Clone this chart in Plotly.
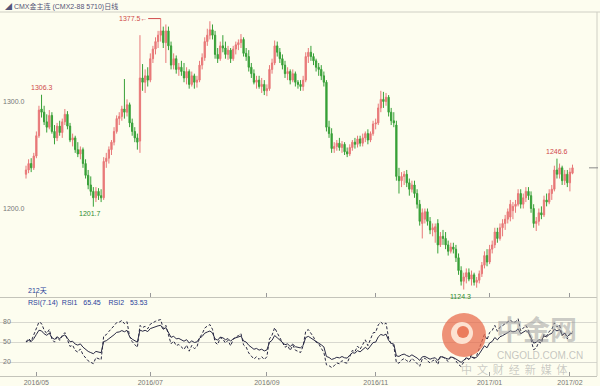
import plotly.graph_objects as go

# ---------------- data ----------------
opens = [
1232,1236,1242,1238,1249,1268,1293,1290,1281,1276,
1287,1272,1266,1277,1271,1281,1288,1277,1264,1266,
1255,1251,1255,1242,1231,1222,1216,1210,1216,1212,
1210,1244,1247,1255,1262,1272,1284,1286,1293,1290,
1297,1280,1272,1266,1263,1322,1318,1324,1320,1340,
1349,1356,1362,1366,1355,1366,1352,1334,1340,1330,
1332,1328,1322,1328,1316,1324,1318,1320,1334,1341,
1356,1362,1367,1362,1344,1340,1352,1350,1344,1348,
1340,1349,1353,1355,1358,1345,1342,1332,1326,1318,
1320,1314,1316,1310,1312,1330,1336,1352,1346,1340,
1334,1326,1328,1320,1326,1318,1316,1314,1320,1342,
1346,1342,1338,1332,1330,1324,1318,1276,1270,1256,
1258,1261,1257,1260,1253,1251,1257,1262,1260,1265,
1261,1266,1270,1264,1270,1279,1280,1294,1302,1300,
1304,1290,1282,1278,1230,1226,1230,1232,1224,1218,
1222,1214,1204,1186,1190,1197,1188,1180,1178,1186,
1166,1174,1172,1166,1160,1164,1162,1154,1142,1132,
1136,1140,1134,1138,1131,1133,1139,1147,1156,1150,
1162,1166,1178,1172,1182,1186,1190,1192,1198,1202,
1204,1214,1204,1210,1216,1212,1200,1186,1188,1196,
1194,1208,1206,1214,1218,1236,1232,1238,1226,1232,
1224,1233]

highs = [
1240,1246,1247,1252,1272,1296,1306.3,1296,1288,1292,
1290,1278,1280,1282,1284,1293,1291,1280,1270,1268,
1262,1258,1257,1246,1236,1230,1220,1220,1219,1218,
1248,1252,1258,1264,1276,1287,1290,1296,1321,1302,
1299,1284,1276,1270,1362,1335,1330,1332,1345,1352,
1360,1366,1377.5,1370,1372,1370,1356,1345,1343,1336,
1338,1336,1332,1330,1328,1326,1324,1338,1345,1360,
1368,1375,1372,1366,1350,1356,1362,1356,1352,1350,
1352,1356,1358,1363,1360,1350,1348,1336,1330,1324,
1324,1322,1320,1316,1334,1340,1357,1356,1350,1344,
1338,1332,1330,1330,1328,1320,1320,1324,1346,1350,
1352,1345,1340,1336,1334,1328,1320,1282,1275,1262,
1264,1266,1263,1262,1257,1260,1264,1266,1268,1268,
1270,1272,1274,1272,1282,1284,1298,1310,1309,1308,
1306,1294,1290,1282,1238,1234,1235,1236,1228,1226,
1226,1218,1208,1200,1200,1200,1192,1186,1186,1190,
1178,1180,1178,1170,1168,1168,1166,1158,1146,1140,
1144,1144,1142,1140,1136,1142,1150,1160,1162,1166,
1170,1182,1182,1186,1190,1194,1200,1208,1206,1208,
1218,1218,1214,1220,1220,1216,1204,1192,1200,1202,
1212,1214,1218,1222,1240,1246.6,1242,1240,1236,1236,
1238,1241]

lows = [
1228,1233,1234,1236,1247,1266,1285,1278,1271,1274,
1270,1260,1263,1268,1266,1278,1274,1262,1258,1252,
1248,1246,1238,1228,1218,1212,1201.7,1206,1208,1206,
1208,1238,1242,1250,1259,1270,1278,1282,1284,1286,
1276,1268,1262,1255,1252,1310,1308,1314,1318,1336,
1344,1350,1356,1350,1336,1348,1330,1330,1326,1324,
1324,1318,1316,1312,1314,1312,1313,1318,1330,1338,
1352,1358,1358,1340,1336,1338,1346,1340,1339,1336,
1338,1344,1348,1350,1342,1338,1328,1322,1316,1312,
1312,1308,1306,1305,1310,1326,1334,1342,1336,1330,
1322,1320,1316,1318,1314,1312,1310,1310,1318,1336,
1338,1334,1328,1324,1320,1314,1272,1266,1252,1252,
1254,1254,1252,1250,1248,1249,1254,1256,1257,1258,
1258,1262,1260,1262,1268,1274,1278,1290,1294,1296,
1286,1278,1276,1226,1214,1220,1222,1220,1212,1215,
1210,1200,1184,1172,1186,1184,1176,1174,1168,1158,
1164,1166,1162,1156,1158,1158,1150,1138,1128,1124.3,
1130,1132,1128,1128,1126,1130,1136,1144,1146,1148,
1158,1163,1168,1170,1174,1180,1186,1188,1190,1196,
1202,1200,1200,1206,1208,1196,1182,1179,1184,1190,
1192,1202,1204,1208,1216,1228,1228,1222,1222,1220,
1216,1232]

closes = [
1236,1242,1238,1249,1268,1292,1290,1281,1276,1287,
1272,1266,1277,1271,1281,1288,1277,1264,1266,1255,
1251,1255,1242,1231,1222,1216,1210,1216,1212,1210,
1244,1247,1255,1262,1272,1284,1286,1293,1290,1297,
1280,1272,1266,1262,1322,1318,1324,1320,1340,1349,
1356,1362,1366,1355,1366,1352,1334,1340,1330,1332,
1328,1322,1328,1316,1324,1318,1320,1334,1341,1356,
1362,1367,1362,1344,1340,1352,1350,1344,1348,1340,
1349,1353,1355,1358,1345,1342,1332,1326,1318,1320,
1314,1316,1310,1312,1330,1336,1352,1346,1340,1334,
1326,1328,1320,1326,1318,1316,1314,1320,1342,1346,
1342,1338,1332,1330,1324,1318,1276,1270,1256,1258,
1261,1257,1260,1253,1251,1257,1262,1260,1265,1261,
1266,1270,1264,1270,1279,1280,1294,1302,1300,1304,
1290,1282,1280,1230,1226,1230,1232,1224,1218,1222,
1214,1204,1188,1196,1197,1188,1180,1182,1183,1166,
1174,1172,1166,1160,1164,1162,1154,1142,1132,1136,
1140,1134,1138,1131,1133,1139,1147,1156,1150,1162,
1166,1178,1172,1182,1186,1190,1197,1204,1202,1204,
1214,1204,1210,1216,1212,1200,1186,1188,1196,1194,
1208,1206,1214,1218,1236,1232,1238,1226,1232,1224,
1234,1238]

# month tick positions (bar index) and labels
tick_pos = [4, 48, 93, 135, 179, 210]
tick_text = ["2016/05", "2016/07", "2016/09", "2016/11", "2017/01", "2017/02"]

price_ticks = [1200, 1300]
price_tick_text = ["1200.0", "1300.0"]
rsi_ticks = [20, 50, 80]

# labelled extremes
peak_labels = [1306.3, 1377.5, 1246.6]
trough_labels = [1201.7, 1124.3]

title_text = "◢ CMX金主连 (CMX2-88 5710)日线"
rsi_header = "RSI(7.14)  RSI1   65.45    RSI2   53.53"
days_text = "212天"

# ---------------- RSI (SMA-type, as in the charting software) ----------------
def rsi(vals, n, seed_up=5.0, seed_abs=10.0):
    up, ab = seed_up, seed_abs
    out = []
    prev = vals[0]
    for v in vals:
        d = v - prev
        up = (max(d, 0) + (n - 1) * up) / n
        ab = (abs(d) + (n - 1) * ab) / n
        out.append(100 * up / ab if ab else 50)
        prev = v
    return out

idx = list(range(len(closes)))
rsi1 = rsi(closes, 7)
rsi2 = rsi(closes, 14)

W, H = 600, 386
def py(p):
    return 1 - p / H
def px(p):
    return p / W

BG = "#FDFDEF"
FONT = "Liberation Sans, Noto Sans CJK SC, DejaVu Sans"
RED = "#E87878"
GREEN = "#38A038"

fig = go.Figure()
fig.add_trace(go.Candlestick(
    x=idx, open=opens, high=highs, low=lows, close=closes,
    increasing=dict(line=dict(color=RED, width=1), fillcolor=RED),
    decreasing=dict(line=dict(color=GREEN, width=1), fillcolor=GREEN),
    whiskerwidth=0, showlegend=False, xaxis="x", yaxis="y",
))
fig.add_trace(go.Scatter(
    x=idx, y=rsi2, mode="lines", line=dict(color="#2a2a44", width=1),
    showlegend=False, xaxis="x2", yaxis="y2",
))
fig.add_trace(go.Scatter(
    x=idx, y=rsi1, mode="lines", line=dict(color="#2a2a44", width=1, dash="3px,2px"),
    showlegend=False, xaxis="x2", yaxis="y2",
))

xr = [-10.04, 220.46]
xdom = [0, 597 / W]

annotations = []
for v in peak_labels:
    i = highs.index(v)
    if v == max(highs):
        annotations.append(dict(x=i, y=v, xref="x", yref="y", text=f"{v:.1f}←",
                                showarrow=True, arrowhead=0, arrowwidth=1, arrowcolor="#D04A4A",
                                ax=-28, ay=0, font=dict(family=FONT, size=7, color="#D04A4A")))
    else:
        annotations.append(dict(x=i, y=v, xref="x", yref="y", text=f"{v:.1f}", showarrow=False,
                                yshift=7, font=dict(family=FONT, size=7, color="#D04A4A")))
for v in trough_labels:
    i = lows.index(v)
    annotations.append(dict(x=i, y=v, xref="x", yref="y", text=f"{v:.1f}", showarrow=False,
                            yshift=-7, xshift=-3, font=dict(family=FONT, size=7, color="#2E8B2E")))

annotations += [
    dict(x=px(3), y=py(6), xref="paper", yref="paper", text=title_text, showarrow=False,
         xanchor="left", yanchor="middle", font=dict(family=FONT, size=7, color="#555577")),
    dict(x=px(26), y=py(291), xref="paper", yref="paper", text=days_text, showarrow=False,
         xanchor="left", yanchor="middle", font=dict(family=FONT, size=7, color="#2a3f9a")),
    dict(x=px(26), y=py(303), xref="paper", yref="paper", text=rsi_header, showarrow=False,
         xanchor="left", yanchor="middle", font=dict(family=FONT, size=7, color="#2a3f9a")),
    # watermark
    dict(x=px(536), y=py(328), xref="paper", yref="paper", text="<b>中金网</b>", showarrow=False,
         xanchor="center", yanchor="middle",
         font=dict(family="Noto Sans CJK SC", size=27, color="rgba(160,160,160,0.55)")),
    dict(x=px(540), y=py(355), xref="paper", yref="paper", text="CNGOLD.COM.CN", showarrow=False,
         xanchor="center", yanchor="middle",
         font=dict(family="Liberation Sans", size=10, color="rgba(160,160,160,0.6)")),
    dict(x=px(514), y=py(369), xref="paper", yref="paper", text="中  文  财  经  新  媒  体",
         showarrow=False, xanchor="center", yanchor="middle",
         font=dict(family="Noto Sans CJK SC", size=11, color="rgba(160,160,160,0.55)")),
]

shapes = [
    dict(type="line", xref="paper", yref="paper", x0=0, x1=1, y0=py(12), y1=py(12),
         line=dict(color="#cfcfc4", width=1)),
    dict(type="line", xref="paper", yref="paper", x0=px(597), x1=px(597), y0=py(12), y1=py(376),
         line=dict(color="#cfcfc4", width=1)),
    dict(type="line", xref="paper", yref="y", x0=px(589), x1=px(598), y0=closes[-1], y1=closes[-1],
         line=dict(color="#888888", width=1)),
    # watermark logo
    dict(type="circle", xref="paper", yref="paper", x0=px(442), x1=px(486), y0=py(357), y1=py(313),
         fillcolor="rgba(232,104,72,0.72)", line=dict(width=0), layer="above"),
    dict(type="circle", xref="paper", yref="paper", x0=px(451), x1=px(473), y0=py(344), y1=py(322),
         fillcolor="rgba(255,240,225,0.85)", line=dict(width=0), layer="above"),
    dict(type="circle", xref="paper", yref="paper", x0=px(457), x1=px(469), y0=py(338), y1=py(326),
         fillcolor="rgba(232,104,72,0.85)", line=dict(width=0), layer="above"),
]

fig.update_layout(
    width=W, height=H, margin=dict(l=0, r=0, t=0, b=0),
    paper_bgcolor=BG, plot_bgcolor=BG, template="none", showlegend=False,
    font=dict(family=FONT, size=7, color="#777777"),
    xaxis=dict(domain=xdom, range=xr, anchor="y", tickvals=tick_pos, showticklabels=False,
               ticks="inside", ticklen=4, tickcolor="#999999", showline=True, linecolor="#c4c4ba",
               showgrid=False, zeroline=False, rangeslider=dict(visible=False), automargin=False),
    yaxis=dict(domain=[py(297), py(14)], range=[1117.29, 1381.78], anchor="x",
               tickvals=price_ticks, ticktext=price_tick_text, ticklabelposition="inside",
               ticks="", showgrid=False, zeroline=False, showline=False,
               tickfont=dict(family=FONT, size=7, color="#777777"), automargin=False),
    xaxis2=dict(domain=xdom, range=xr, anchor="y2", tickvals=tick_pos, ticktext=tick_text,
                ticks="inside", ticklen=4, tickcolor="#999999", showline=True, linecolor="#c4c4ba",
                showgrid=False, zeroline=False, tickfont=dict(family=FONT, size=7, color="#777777"),
                automargin=False),
    yaxis2=dict(domain=[py(376), py(300)], range=[-1, 113], anchor="x2",
                tickvals=rsi_ticks, ticklabelposition="inside", ticks="",
                showgrid=True, gridcolor="#d8d8cf", gridwidth=1, zeroline=False, showline=False,
                tickfont=dict(family=FONT, size=7, color="#777777"), automargin=False),
    annotations=annotations, shapes=shapes,
)

fig.write_html("out.html")
